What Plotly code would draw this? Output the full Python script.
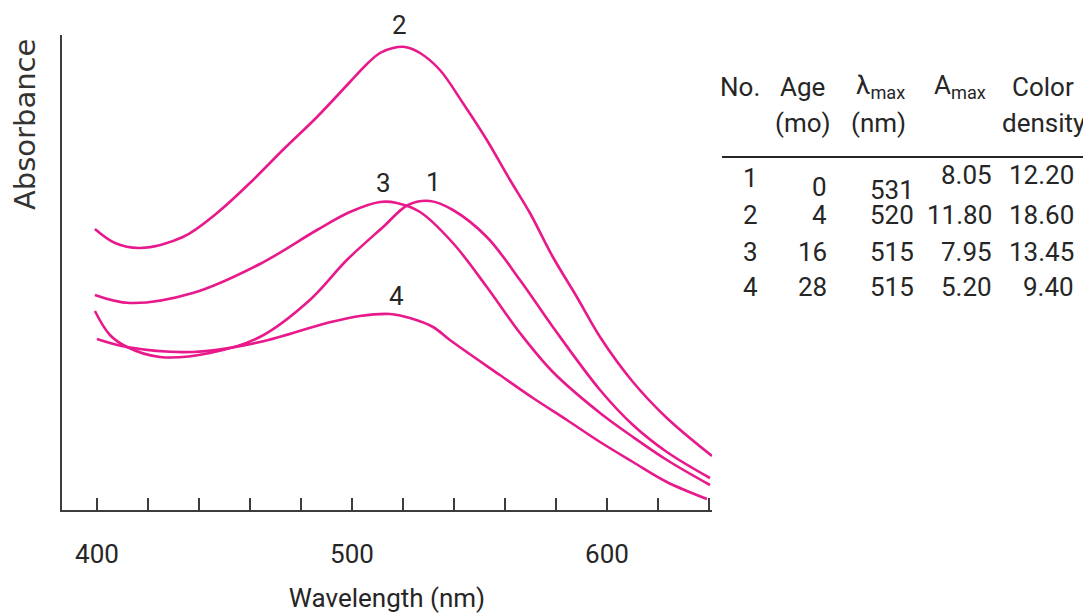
import plotly.graph_objects as go

# ---------------- data ----------------
wl_1 = [399.2, 405.1, 411.8, 424.7, 444.3, 463.9, 483.5, 498.0, 512.2, 522.0, 530.6,
        539.6, 552.9, 565.9, 578.8, 597.3, 610.2, 623.5, 640.4]
abs_1 = [1.99, 1.75, 1.63, 1.53, 1.57, 1.73, 2.10, 2.50, 2.83, 3.05, 3.09,
         3.00, 2.73, 2.30, 1.83, 1.20, 0.85, 0.58, 0.32]

wl_2 = [399.2, 407.1, 416.9, 433.7, 447.1, 460.0, 472.9, 486.3, 499.2, 505.9, 511.0,
        516.1, 520.8, 526.7, 534.5, 543.5, 552.9, 562.0, 569.8, 578.8, 588.2, 597.3,
        610.2, 623.5, 641.2]
abs_2 = [2.81, 2.67, 2.62, 2.73, 2.97, 3.27, 3.60, 3.93, 4.28, 4.46, 4.57,
         4.62, 4.63, 4.57, 4.40, 4.07, 3.70, 3.30, 2.97, 2.53, 2.13, 1.73,
         1.28, 0.92, 0.54]

wl_3 = [399.2, 412.9, 437.6, 463.9, 486.3, 499.2, 511.0, 517.6, 526.7, 539.6, 552.9,
        565.9, 578.8, 597.3, 610.2, 623.5, 640.4]
abs_3 = [2.15, 2.07, 2.17, 2.46, 2.80, 2.98, 3.08, 3.07, 2.98, 2.67, 2.23,
         1.77, 1.38, 0.97, 0.73, 0.50, 0.25]

wl_4 = [400.0, 411.8, 437.6, 463.9, 490.2, 503.1, 514.9, 522.7, 531.8, 538.4, 558.0,
        571.0, 584.3, 597.3, 610.2, 623.5, 639.2]
abs_4 = [1.71, 1.63, 1.58, 1.68, 1.87, 1.94, 1.96, 1.92, 1.83, 1.70, 1.35,
         1.12, 0.90, 0.68, 0.48, 0.28, 0.11]

curve_names = ["1", "2", "3", "4"]
label_wl = [531.8, 518.8, 512.2, 517.6]
label_abs = [3.28, 4.85, 3.27, 2.14]

x_tick_vals = [400, 500, 600]
x_tick_text = ["400", "500", "600"]

table_no = ["1", "2", "3", "4"]
table_age = ["0", "4", "16", "28"]
table_lmax = ["531", "520", "515", "515"]
table_amax = ["8.05", "11.80", "7.95", "5.20"]
table_density = ["12.20", "18.60", "13.45", "9.40"]

# ---------------- styling ----------------
PINK = "#E8198B"
INK = "#262626"
AXIS = "#3c3c3c"
NARROW = "Roboto, Lato, Liberation Sans, sans-serif"
FS = 26

# the page body adds an 8 px offset; compensate in the margins
BODY = 8
W, H = 1091, 616
PLOT_L, PLOT_T, PLOT_R, PLOT_B = 62, 35, 712, 510   # page pixels of the plot area
L, T = PLOT_L - BODY, PLOT_T - BODY
PW, PH = PLOT_R - PLOT_L, PLOT_B - PLOT_T
R, B = W - L - PW, H - T - PH
Y_TOP = 4.75


def px(x):
    return (x - PLOT_L) / PW


def py(y):
    return (PLOT_B - y) / PH


fig = go.Figure()
for wl, ab, nm in zip([wl_1, wl_2, wl_3, wl_4], [abs_1, abs_2, abs_3, abs_4], curve_names):
    fig.add_trace(go.Scatter(x=wl, y=ab, mode="lines", name=nm,
                             line=dict(color=PINK, width=2.6, shape="spline", smoothing=1.0),
                             hoverinfo="skip"))

annotations = []
for nm, lx, ly in zip(curve_names, label_wl, label_abs):
    annotations.append(dict(x=lx, y=ly / Y_TOP, xref="x", yref="paper", text=nm, showarrow=False,
                            xanchor="center", yanchor="middle",
                            font=dict(family=NARROW, size=FS, color=INK)))

# y-axis title
annotations.append(dict(x=px(25), y=py(125), xref="paper", yref="paper", text="Absorbance",
                        textangle=-90, showarrow=False, xanchor="center", yanchor="middle",
                        font=dict(family="DejaVu Sans, Verdana, sans-serif", size=29, color="#333333")))

# table headers
hdr_font = dict(family=NARROW, size=FS, color=INK)
headers = [
    (740, 87, "No."), (803, 87, "Age"), (803, 123, "(mo)"),
    (880, 87, "λ<sub>max</sub>"), (878, 123, "(nm)"),
    (960, 87, "A<sub>max</sub>"), (1043, 87, "Color"), (1043, 123, "density"),
]
for hx, hy, ht in headers:
    annotations.append(dict(x=px(hx), y=py(hy), xref="paper", yref="paper", text=ht,
                            showarrow=False, xanchor="center", yanchor="middle", font=hdr_font))
# next column header, cut by the right edge as in the source
annotations.append(dict(x=px(1085), y=py(87), xref="paper", yref="paper", text="V",
                        showarrow=False, xanchor="left", yanchor="middle", font=hdr_font))

row_y = [178, 215, 252, 287]
columns = [
    (table_no, 750, "center", [0, 0, 0, 0]),
    (table_age, 829, "right", [9, 0, 0, 0]),
    (table_lmax, 916, "right", [12, 0, 0, 0]),
    (table_amax, 994, "right", [-3, 0, 0, 0]),
    (table_density, 1076, "right", [-3, 0, 0, 0]),
]
for vals, cx, anchor, offs in columns:
    for v, ry, off in zip(vals, row_y, offs):
        annotations.append(dict(x=px(cx), y=py(ry + off), xref="paper", yref="paper", text=v,
                                showarrow=False, xanchor=anchor, yanchor="middle", font=hdr_font))

fig.update_layout(
    width=W, height=H,
    margin=dict(l=L, r=R, t=T, b=B, autoexpand=False),
    paper_bgcolor="white", plot_bgcolor="white",
    showlegend=False,
    annotations=annotations,
    shapes=[dict(type="line", xref="paper", yref="paper", x0=px(722), x1=px(1100),
                 y0=py(157), y1=py(157), line=dict(color=INK, width=2))],
    xaxis=dict(range=[386.3, 641.2], showgrid=False, zeroline=False, automargin=False,
               showline=True, linecolor=AXIS, linewidth=2,
               tickvals=x_tick_vals, ticktext=x_tick_text,
               ticks="inside", ticklen=12, tickwidth=1.5, tickcolor=AXIS,
               minor=dict(dtick=20, tick0=400, ticks="inside", ticklen=12, tickwidth=1.5,
                          tickcolor=AXIS, showgrid=False),
               tickfont=dict(family=NARROW, size=FS, color=INK),
               ticklabelstandoff=20,
               title=dict(text="Wavelength (nm)", font=dict(family=NARROW, size=FS, color=INK),
                          standoff=21)),
    yaxis=dict(range=[0, Y_TOP], showgrid=False, zeroline=False, automargin=False,
               showline=True, linecolor=AXIS, linewidth=2,
               showticklabels=False, ticks=""),
)

fig.write_html("out.html")
